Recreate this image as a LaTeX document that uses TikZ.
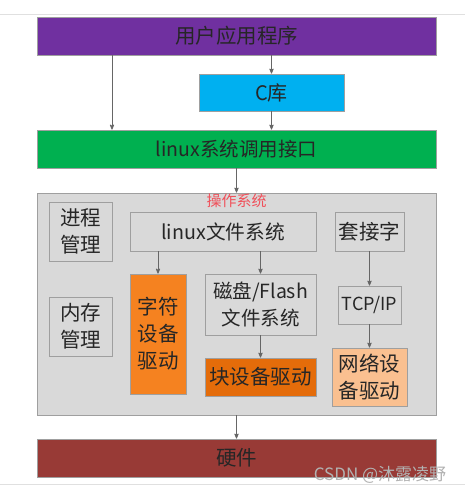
\documentclass[tikz,border=0pt]{standalone}
\usepackage{xcolor}
\usepackage{fontspec}
\setmainfont{Noto Sans CJK SC}
\usepackage{tikz}
\usetikzlibrary{arrows}

\definecolor{appcol}{HTML}{7030A0}
\definecolor{clibcol}{HTML}{00B0F0}
\definecolor{syscol}{HTML}{00B050}
\definecolor{oscol}{HTML}{D9D9D9}
\definecolor{osred}{HTML}{F0505A}
\definecolor{chrcol}{HTML}{F58220}
\definecolor{blkcol}{HTML}{E46C0A}
\definecolor{netcol}{HTML}{FAC090}
\definecolor{hwcol}{HTML}{983A36}

\begin{document}
\begin{tikzpicture}[x=1pt, y=-1pt, >=stealth',
    block/.style={rectangle, draw=gray!75, line width=0.8pt, inner sep=0pt, align=center, text=black!85, font=\fontsize{20.5}{27}\selectfont},
    arrow/.style={->, draw=black!60, line width=0.8pt}]
    \useasboundingbox (0,0) rectangle (465,493);
    \fill[white] (0,0) rectangle (465,493);
    \draw[black!12, line width=1pt] (0,14) -- (465,14);
    \draw[black!12, line width=1pt] (0,484) -- (465,484);

    \node[block, fill=appcol, minimum width=399pt, minimum height=38pt] (app) at (236.5,36) {用户应用程序};
    \node[block, fill=clibcol, minimum width=145pt, minimum height=37pt, font=\fontsize{20}{22}\selectfont] (clib) at (271.5,92.5) {C库};
    \node[block, fill=syscol, minimum width=399pt, minimum height=38pt, font=\fontsize{19.5}{22}\selectfont] (syscall) at (236.5,149) {linux系统调用接口};
    \node[block, fill=oscol, minimum width=399pt, minimum height=222pt] (os) at (236.5,304) {};
    \node[text=osred, font=\fontsize{15}{16}\selectfont] (oslabel) at (236.5,201) {操作系统};

    \node[block, minimum width=63pt, minimum height=59pt] (proc) at (80.5,231.5) {进程\\管理};
    \node[block, minimum width=63pt, minimum height=59pt] (mem) at (80.5,326.5) {内存\\管理};
    \node[block, minimum width=186pt, minimum height=39pt, font=\fontsize{19.7}{22}\selectfont] (fs) at (223,231.5) {linux文件系统};
    \node[block, minimum width=69pt, minimum height=39pt] (sock) at (369.5,231.5) {套接字};
    \node[block, fill=chrcol, minimum width=56pt, minimum height=120pt] (chr) at (158,334) {字符\\设备\\驱动};
    \node[block, minimum width=111pt, minimum height=61pt, font=\fontsize{19.5}{27}\selectfont] (disk) at (260.5,304.5) {磁盘/Flash\\文件系统};
    \node[block, fill=blkcol, minimum width=111pt, minimum height=38pt] (blk) at (260.5,377) {块设备驱动};
    \node[block, minimum width=63pt, minimum height=38pt, font=\fontsize{18}{22}\selectfont] (tcp) at (369.5,305) {TCP/IP};
    \node[block, fill=netcol, minimum width=75pt, minimum height=58pt] (net) at (369.5,377) {网络设\\备驱动};
    \node[block, fill=hwcol, minimum width=399pt, minimum height=38pt] (hw) at (236.5,458) {硬件};

    \draw[arrow] ([xshift=-124.5pt]app.south) -- ([xshift=-124.5pt]syscall.north);
    \draw[arrow] (app.south -| clib) -- (clib.north);
    \draw[arrow] (clib.south) -- (clib.south |- syscall.north);
    \draw[arrow] (syscall) -- (os);
    \draw[arrow] (fs.south -| chr) -- (chr.north);
    \draw[arrow] (fs.south -| disk) -- (disk.north);
    \draw[arrow] (disk) -- (blk);
    \draw[arrow] (sock) -- (tcp);
    \draw[arrow] (tcp) -- (net);
    \draw[arrow] (os) -- (hw);

    \node[text=gray!60, font=\fontsize{17}{19}\selectfont] (mark) at (380,475) {CSDN @沐露凌野};
\end{tikzpicture}
\end{document}
